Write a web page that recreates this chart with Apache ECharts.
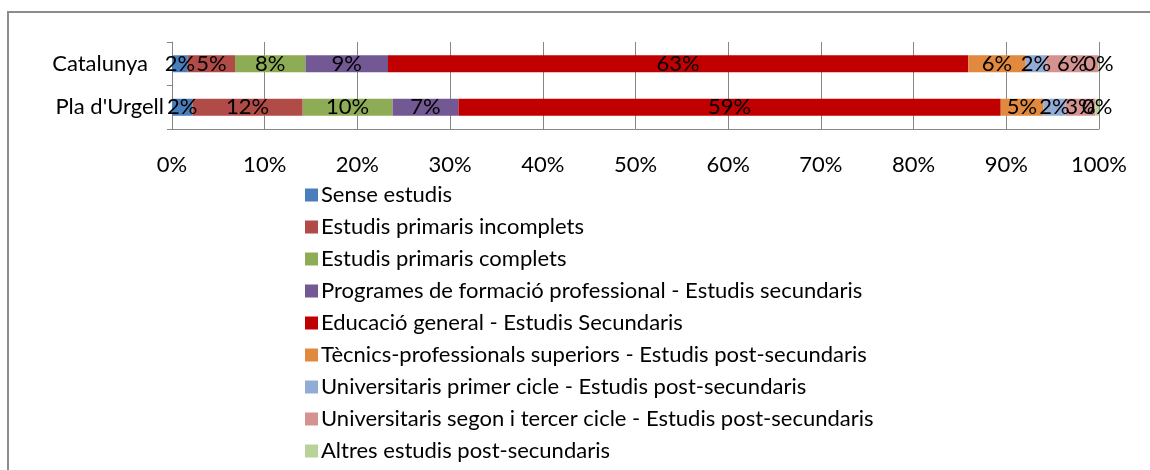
<!DOCTYPE html>
<html>
<head>
<meta charset="utf-8">
<script src="https://cdn.jsdelivr.net/npm/echarts@6/dist/echarts.min.js"></script>
<style>
  html, body { margin: 0; padding: 0; background: #fff; }
  #chart { width: 1150px; height: 470px; }
</style>
</head>
<body>
<div id="chart"></div>
<script>
// categories, bottom to top (category axis starts at the bottom)
const regions = ["Pla d'Urgell", 'Catalunya']

const seriesNames = [
  'Sense estudis',
  'Estudis primaris incomplets',
  'Estudis primaris complets',
  'Programes de formació professional - Estudis secundaris',
  'Educació general - Estudis Secundaris',
  'Tècnics-professionals superiors - Estudis post-secundaris',
  'Universitaris primer cicle - Estudis post-secundaris',
  'Universitaris segon i tercer cicle - Estudis post-secundaris',
  'Altres estudis post-secundaris'
]

// percentages per region: [Pla d'Urgell, Catalunya]
const senseEstudis = [2.2, 1.7]
const primarisIncomplets = [11.9, 5.1]
const primarisComplets = [9.7, 7.6]
const formacioProfessional = [7.1, 8.9]
const educacioGeneral = [58.5, 62.6]
const tecnicsSuperiors = [4.6, 6.2]
const primerCicle = [2.4, 2.2]
const segonTercerCicle = [3.2, 5.6]
const altresEstudis = [0.4, 0.1]

const seriesValues = [
  senseEstudis, primarisIncomplets, primarisComplets, formacioProfessional,
  educacioGeneral, tecnicsSuperiors, primerCicle, segonTercerCicle, altresEstudis
]

const colors = ['#4a7ebb', '#b14b48', '#8eac56', '#725993', '#c00000',
  '#e0893f', '#93acd6', '#d49391', '#b8d39a']

const font = 'Lato, Calibri, sans-serif'

const chart = echarts.init(document.getElementById('chart'))

chart.setOption({
  animation: false,
  color: colors,
  textStyle: { fontFamily: font },
  grid: { left: 172, right: 51, top: 42, height: 87 },
  legend: {
    orient: 'vertical',
    left: 300,
    top: 179,
    itemWidth: 13,
    itemHeight: 13,
    itemGap: 10,
    icon: 'rect',
    textStyle: { fontSize: 22, color: '#000', fontFamily: font, padding: [0, 0, 0, -2] },
    data: seriesNames
  },
  xAxis: {
    type: 'value',
    min: 0,
    max: 100,
    interval: 10,
    axisLine: { show: true, lineStyle: { color: '#868686' } },
    axisTick: { show: false },
    splitLine: { lineStyle: { color: '#868686' } },
    axisLabel: { formatter: '{value}%', color: '#000', fontSize: 22, margin: 25, fontFamily: font }
  },
  yAxis: {
    type: 'category',
    data: regions,
    axisLine: { lineStyle: { color: '#868686' } },
    axisTick: { show: true, length: 5, lineStyle: { color: '#868686' } },
    axisLabel: {
      color: '#000', fontSize: 22, margin: 8, fontFamily: font,
      formatter: v => v === 'Catalunya' ? '{a|' + v + '}' : v,
      rich: { a: { fontSize: 22, color: '#000', padding: [0, 16, 0, 0], fontFamily: font } }
    }
  },
  graphic: [{
    type: 'rect',
    shape: { x: 8, y: 12, width: 1300, height: 600 },
    style: { fill: 'none', stroke: '#8c8c8c', lineWidth: 2 },
    silent: true
  }],
  series: seriesNames.map((name, i) => ({
    name,
    type: 'bar',
    stack: 'total',
    barWidth: 17,
    data: seriesValues[i],
    label: {
      show: true,
      position: 'inside',
      color: '#000',
      fontSize: 22,
      fontFamily: font,
      formatter: p => Math.round(p.value) + '%'
    }
  }))
})
</script>
</body>
</html>
